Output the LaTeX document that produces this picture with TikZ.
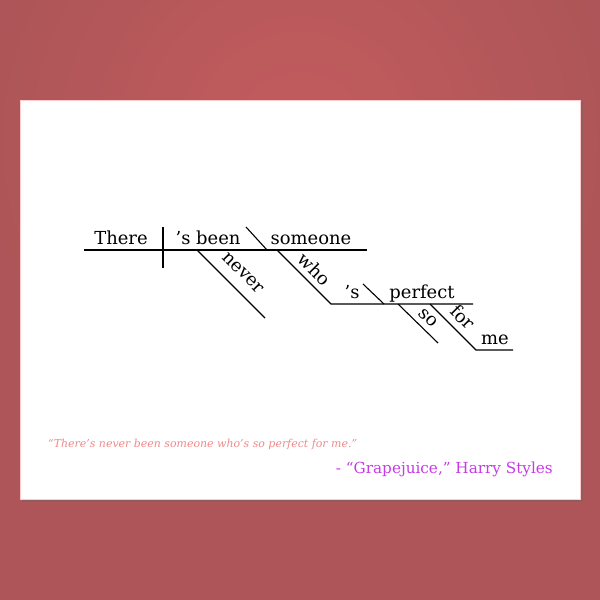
\documentclass[tikz,border=0pt]{standalone}
\usepackage{fontspec}
\setmainfont{DejaVu Serif}
\usetikzlibrary{calc}
\definecolor{bgred}{HTML}{AD5558}
\definecolor{bglight}{HTML}{C35C5E}
\definecolor{quotecol}{HTML}{F08A8A}
\definecolor{songcol}{HTML}{C63BE6}
\tikzset{rule/.style={line width=1.1pt,black}}
\tikzset{word/.style={inner sep=0pt,font=\fontsize{18}{18}\selectfont}}
\tikzset{slantword/.style={word,rotate=-45}}

\begin{document}
\begin{tikzpicture}[x=1bp,y=-1bp]
                    % background and card
                    \useasboundingbox (0,0) rectangle (600,600);
                    \clip (0,0) rectangle (600,600);
                    \fill[bgred] (0,0) rectangle (600,600);
                    \shade[inner color=bglight, outer color=bgred] (300,140) circle (320);
                    \fill[black!60, opacity=0.35] (22,102) rectangle (583,502);
                    \fill[white, draw=red!20, line width=0.6pt] (20,100) rectangle (580,499);

                    % points of the diagram
                    \coordinate (L) at (84,250);
                    \coordinate (R) at (367,250);
                    \coordinate (Vt) at (163,227);
                    \coordinate (Vb) at (163,268);
                    \coordinate (Ot) at (246,227);
                    \coordinate (Ob) at (267,250);
                    \coordinate (Na) at (197,250);
                    \coordinate (Nb) at (265,318);
                    \coordinate (Wa) at (277,250);
                    \coordinate (Wb) at (331,304);
                    \coordinate (Pr) at (473,304);
                    \coordinate (Ct) at (363,284);
                    \coordinate (Cb) at (384,304);
                    \coordinate (Sa) at (398,304);
                    \coordinate (Sb) at (438,343);
                    \coordinate (Fa) at (430,304);
                    \coordinate (Fb) at (476,350);
                    \coordinate (Mr) at (513,350);

                    \draw[rule] (L) -- (R);
                    \draw[rule] (Vt) -- (Vb);
                    \draw[rule] (Ot) -- (Ob);
                    \draw[rule] (Na) -- (Nb);
                    \draw[rule] (Wa) -- (Wb) -- (Pr);
                    \draw[rule] (Ct) -- (Cb);
                    \draw[rule] (Sa) -- (Sb);
                    \draw[rule] (Fa) -- (Fb) -- (Mr);

                    % words
                    \node[word, anchor=base] (there) at (121,244) {There};
                    \node[word, anchor=base] (been) at (208,244) {’s been};
                    \node[word, anchor=base] (someone) at (311,244) {someone};
                    \node[slantword] (never) at (243,273) {never};
                    \node[slantword] (who) at (315,269) {who};
                    \node[word, anchor=base] (is) at (352,298) {’s};
                    \node[word, anchor=base] (perfect) at (422,298) {perfect};
                    \node[slantword] (so) at (428,318) {so};
                    \node[slantword] (for) at (463,317) {for};
                    \node[word, anchor=base] (me) at (495,344) {me};

                    % quote
                    \node[anchor=base west, inner sep=0pt, text=quotecol, font=\fontsize{11}{11}\selectfont\itshape] (quote) at (48,447) {“There’s never been someone who’s so perfect for me.”};
                    \node[anchor=base east, inner sep=0pt, text=songcol, font=\fontsize{15.3}{15.3}\selectfont] (song) at (553,473) {- “Grapejuice,” Harry Styles};
                \end{tikzpicture}
\end{document}
